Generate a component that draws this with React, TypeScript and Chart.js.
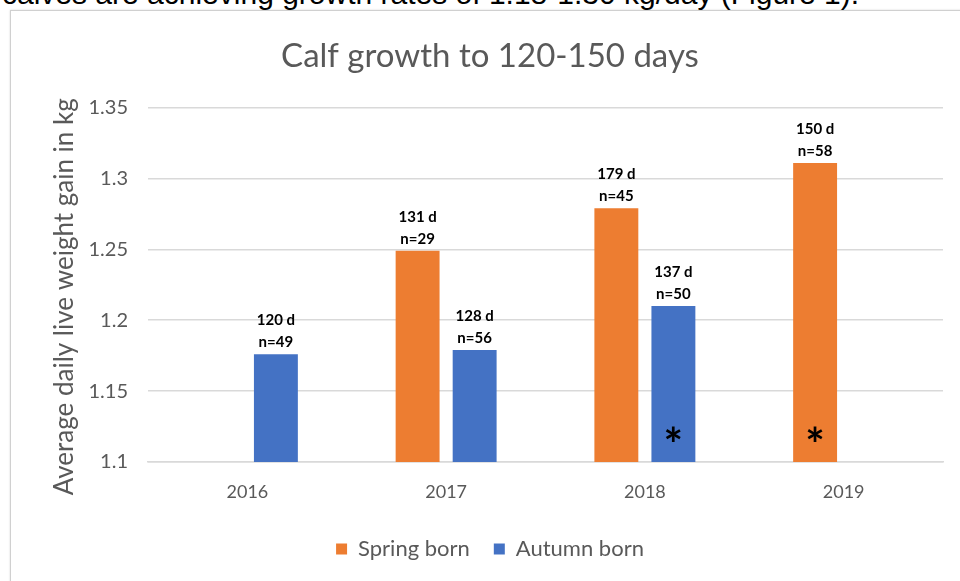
import React, { useEffect, useRef } from "react";
import { Chart, registerables } from "chart.js";

Chart.register(...registerables);

const categories = ["2016", "2017", "2018", "2019"];
const springValues: (number | null)[] = [null, 1.249, 1.279, 1.311];
const autumnValues: (number | null)[] = [1.176, 1.179, 1.21, null];
const springDays = ["", "131 d", "179 d", "150 d"];
const springN = ["", "n=29", "n=45", "n=58"];
const autumnDays = ["120 d", "128 d", "137 d", ""];
const autumnN = ["n=49", "n=56", "n=50", ""];
const springStar = [false, false, false, true];
const autumnStar = [false, false, true, false];
const yTicks = [1.1, 1.15, 1.2, 1.25, 1.3, 1.35];
const yTitle = "Average daily live weight gain in kg";

const FONT = "Lato, 'Open Sans', sans-serif";
const GREY = "#595959";

const labelPlugin = {
  id: "barLabels",
  afterDatasetsDraw(chart: any) {
    const ctx = chart.ctx;
    const sets = [
      { idx: 0, days: springDays, n: springN, star: springStar },
      { idx: 1, days: autumnDays, n: autumnN, star: autumnStar },
    ];
    ctx.save();
    ctx.textAlign = "center";
    ctx.fillStyle = "#000";
    const yScale = chart.scales.y;
    sets.forEach((s) => {
      const meta = chart.getDatasetMeta(s.idx);
      meta.data.forEach((bar: any, i: number) => {
        const v = chart.data.datasets[s.idx].data[i];
        if (v == null) return;
        ctx.font = `bold 15px ${FONT}`;
        ctx.textBaseline = "alphabetic";
        ctx.fillText(s.n[i], bar.x, bar.y - 7);
        ctx.fillText(s.days[i], bar.x, bar.y - 29);
        if (s.star[i]) {
          ctx.font = `bold 46px ${FONT}`;
          ctx.fillText("*", bar.x, yScale.getPixelForValue(1.1) - 1);
        }
      });
    });
    // y-axis title
    ctx.save();
    ctx.fillStyle = GREY;
    ctx.font = `26px ${FONT}`;
    ctx.textBaseline = "middle";
    ctx.translate(chart.scales.y.left + 28, (chart.chartArea.top + chart.chartArea.bottom) / 2 + 12);
    ctx.rotate(-Math.PI / 2);
    ctx.fillText(yTitle, 0, 0);
    ctx.restore();
    ctx.restore();
  },
};

export default function App() {
  const ref = useRef<HTMLCanvasElement>(null);
  useEffect(() => {
    if (!ref.current) return;
    const chart = new Chart(ref.current, {
      type: "bar",
      data: {
        labels: categories,
        datasets: [
          {
            label: "Spring born",
            data: springValues,
            backgroundColor: "#ED7D31",
            categoryPercentage: 0.574,
            barPercentage: 0.77,
          },
          {
            label: "Autumn born",
            data: autumnValues,
            backgroundColor: "#4472C4",
            categoryPercentage: 0.574,
            barPercentage: 0.77,
          },
        ],
      },
      options: {
        animation: false,
        responsive: false,
        maintainAspectRatio: false,
        layout: { padding: { left: 37, right: 17, top: 0, bottom: 11 } },
        plugins: {
          tooltip: { enabled: false },
          title: {
            display: true,
            text: "Calf growth to 120-150 days",
            color: GREY,
            font: { family: FONT, size: 33, weight: "normal" },
            padding: { top: 37, bottom: 31 },
          },
          legend: {
            position: "bottom",
            labels: {
              color: GREY,
              font: { family: FONT, size: 22 },
              boxWidth: 11,
              boxHeight: 11,
              padding: 24,
            },
          },
        },
        scales: {
          x: {
            grid: { display: false },
            border: { display: true, color: "#d9d9d9", width: 1.5 },
            ticks: { color: GREY, font: { family: FONT, size: 18 }, padding: 11 },
            afterFit: (s: any) => {
              s.height = 52;
            },
          },
          y: {
            min: 1.1,
            max: 1.35,
            afterBuildTicks: (s: any) => {
              s.ticks = yTicks.map((v) => ({ value: v }));
            },
            grid: { color: "#d9d9d9", drawTicks: false, lineWidth: 1.5 },
            border: { display: false },
            ticks: {
              color: GREY,
              font: { family: FONT, size: 20 },
              padding: 20,
              callback: (v: any) => String(Math.round(Number(v) * 100) / 100),
            },
            afterFit: (s: any) => {
              s.width = 111;
            },
          },
        },
      },
      plugins: [labelPlugin],
    });
    return () => chart.destroy();
  }, []);

  return (
    <div style={{ position: "absolute", left: 0, top: 0, width: 960, height: 581, overflow: "hidden", background: "#fff" }}>
      <div
        style={{
          position: "absolute",
          left: 2,
          top: -23,
          fontFamily: "'Liberation Sans', Arial, sans-serif",
          fontSize: 30,
          whiteSpace: "nowrap",
          color: "#000",
        }}
      >
        calves are achieving growth rates of 1.18-1.30 kg/day (Figure 1).
      </div>
      <div
        style={{
          position: "absolute",
          left: 10,
          top: 10,
          width: 960,
          height: 600,
          borderLeft: "1.5px solid #d0d0d0",
          borderTop: "1.5px solid #d0d0d0",
          boxShadow: "0 0 2px rgba(0,0,0,0.15)",
        }}
      />
      <canvas ref={ref} width={960} height={581} style={{ position: "absolute", left: 0, top: 0 }} />
    </div>
  );
}
